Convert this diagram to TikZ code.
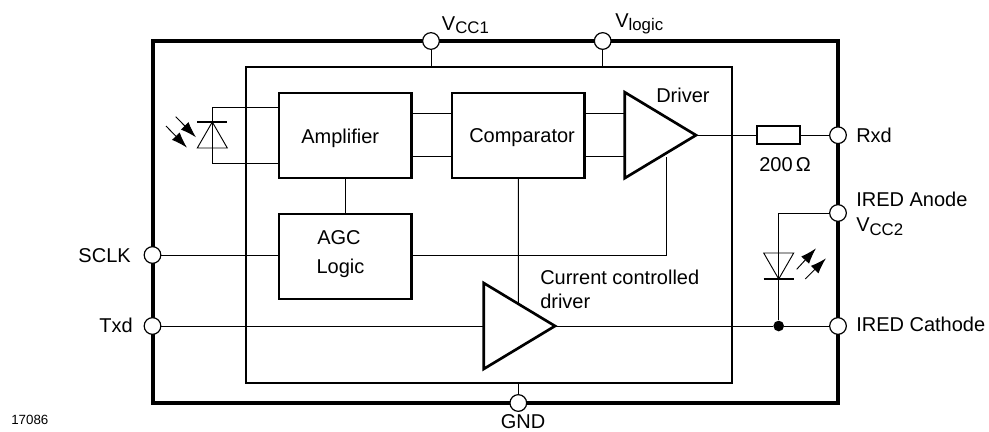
\documentclass[tikz,border=0pt]{standalone}
\usepackage{fontspec}
\setmainfont{Liberation Sans}
\usetikzlibrary{arrows.meta, shapes.geometric, positioning}

\newcommand{\lowtxt}[1]{\raisebox{-2.5pt}{\fontsize{12.6}{15}\selectfont #1}}

\begin{document}
\begin{tikzpicture}[
        x=0.75pt, y=-0.75pt,
        block/.style={rectangle, draw, line width=1.8pt, outer sep=0pt, minimum width=99.4pt, minimum height=63.75pt},
        frame/.style={rectangle, draw, outer sep=0pt},
        pin/.style={circle, draw, fill=white, line width=0.9pt, minimum size=12.5pt, inner sep=0pt},
        amptri/.style={isosceles triangle, isosceles triangle stretches, shape border rotate=0, draw, line width=2pt, inner sep=0pt, outer sep=0pt, minimum width=64.5pt, minimum height=53.5pt, anchor=apex},
        diode/.style={isosceles triangle, isosceles triangle stretches, draw, line width=0.7pt, inner sep=0pt, outer sep=0pt, minimum width=22.5pt, minimum height=19.5pt},
        wire/.style={line width=0.7pt},
        bar/.style={line width=2pt},
        ray/.style={line width=0.7pt, -{Latex[length=12pt, width=8pt]}},
        lbl/.style={font=\fontsize{15}{18}\selectfont, inner sep=0pt, anchor=base west}
    ]
    \useasboundingbox (0,0) rectangle (989,432);

    % Frames
    \node (chip) [frame, line width=3pt, minimum width=514.1pt, minimum height=271.5pt] at (495.25,222) {};
    \node (die) [frame, line width=1.8pt, minimum width=364.7pt, minimum height=237pt] at (488.85,224.7) {};

    % Blocks
    \node (amp) [block] at (345.3,135.2) {};
    \node (comp) [block, right=30.4pt of amp] {};
    \node (agc) [block, below=27pt of amp] {};
    \node (drv) [amptri] at (696,135.2) {};
    \node (ccd) [amptri] at (555,326) {};
    \node (res) [rectangle, draw, line width=1.2pt, outer sep=0pt, minimum width=32pt, minimum height=13.5pt] at (778.5,135.2) {};

    % Pins
    \node (vcc) [pin] at (431,41) {};
    \node (vlog) [pin] at (602.7,41) {};
    \node (gnd) [pin] at (518.3,403) {};
    \node (sclk) [pin] at (152.5,255) {};
    \node (txd) [pin] at (152.5,326) {};
    \node (rxd) [pin] at (838,135.2) {};
    \node (ianode) [pin] at (838,213) {};
    \node (icath) [pin] at (838,326) {};

    % Diodes
    \node (pd) [diode, shape border rotate=90, anchor=apex] at (212.3,122) {};
    \node (led) [diode, shape border rotate=-90, anchor=apex] at (778.7,279) {};
    \node (dot) [circle, fill=black, inner sep=0pt, minimum size=8pt] at (778.7,326) {};
    \coordinate (pdraya) at (175.7,116.7);
    \coordinate (pdrayb) at (196,137.3);
    \coordinate (pdrayc) at (166,126);
    \coordinate (pdrayd) at (187,147.7);
    \coordinate (ledraya) at (796.7,269.3);
    \coordinate (ledrayb) at (816,248.3);
    \coordinate (ledrayc) at (805.3,279);
    \coordinate (ledrayd) at (826,258.3);
    \coordinate (fbk) at (666,157);
    \draw [bar] ([xshift=-11.25pt]pd.apex) -- ([xshift=11.25pt]pd.apex);
    \draw [bar] ([xshift=-11.25pt]led.apex) -- ([xshift=11.25pt]led.apex);
    \draw [ray] (pdraya) -- (pdrayb);
    \draw [ray] (pdrayc) -- (pdrayd);
    \draw [ray] (ledraya) -- (ledrayb);
    \draw [ray] (ledrayc) -- (ledrayd);

    % Wires
    \draw [wire] ([yshift=21pt]amp.west) -| (pd.apex) |- ([yshift=-21pt]amp.west);
    \draw [wire] ([yshift=16.1pt]amp.east) -- ([yshift=16.1pt]comp.west);
    \draw [wire] ([yshift=-16.1pt]amp.east) -- ([yshift=-16.1pt]comp.west);
    \draw [wire] ([yshift=16.1pt]comp.east) -- ([yshift=16.1pt]drv.west);
    \draw [wire] ([yshift=-16.1pt]comp.east) -- ([yshift=-16.1pt]drv.west);
    \draw [wire] (amp) -- (agc);
    \draw [wire] (drv.apex) -- (res);
    \draw [wire] (res) -- (rxd);
    \draw [wire] (sclk) -- (sclk -| agc.west);
    \draw [wire] (sclk -| agc.east) -| (fbk);
    \draw [wire] (comp.south) -- (518.4,304);
    \draw [wire] (txd) -- (ccd.west);
    \draw [wire] (ccd.apex) -- (dot) -- (icath);
    \draw [wire] (ianode) -| (led.apex) -- (dot);
    \draw [wire] (vcc) -- (vcc |- die.north);
    \draw [wire] (vlog) -- (vlog |- die.north);
    \draw [wire] (gnd) -- (gnd |- die.south);

    % Labels
    \node (amptxt) [lbl] at (301,143.3) {Amplifier};
    \node (comptxt) [lbl] at (469,142.7) {Comparator};
    \node (agctxt) [lbl, anchor=base] at (339,244.7) {AGC};
    \node (logtxt) [lbl, anchor=base] at (340.5,273) {Logic};
    \node (drvtxt) [lbl] at (656,102.3) {Driver};
    \node (cctxt) [lbl] at (540,284.3) {Current controlled};
    \node (cctxtb) [lbl] at (540,308) {driver};
    \node (omega) [lbl] at (759,171.7) {200\,Ω};
    \node (vcctxt) [lbl] at (441.7,30) {V\lowtxt{CC1}};
    \node (vlogtxt) [lbl] at (615,27.3) {V\lowtxt{logic}};
    \node (gndtxt) [lbl, anchor=base] at (523,428) {GND};
    \node (sclktxt) [lbl, anchor=base east] at (131,262.3) {SCLK};
    \node (txdtxt) [lbl, anchor=base east] at (133,332.7) {Txd};
    \node (rxdtxt) [lbl] at (856,142) {Rxd};
    \node (iatxt) [lbl] at (856,206.7) {IRED Anode};
    \node (v2txt) [lbl] at (856,231.7) {V\lowtxt{CC2}};
    \node (ictxt) [lbl] at (856,331.7) {IRED Cathode};
    \node (figtxt) [lbl, font=\fontsize{10}{12}\selectfont] at (11,424) {17086};

\end{tikzpicture}
\end{document}
